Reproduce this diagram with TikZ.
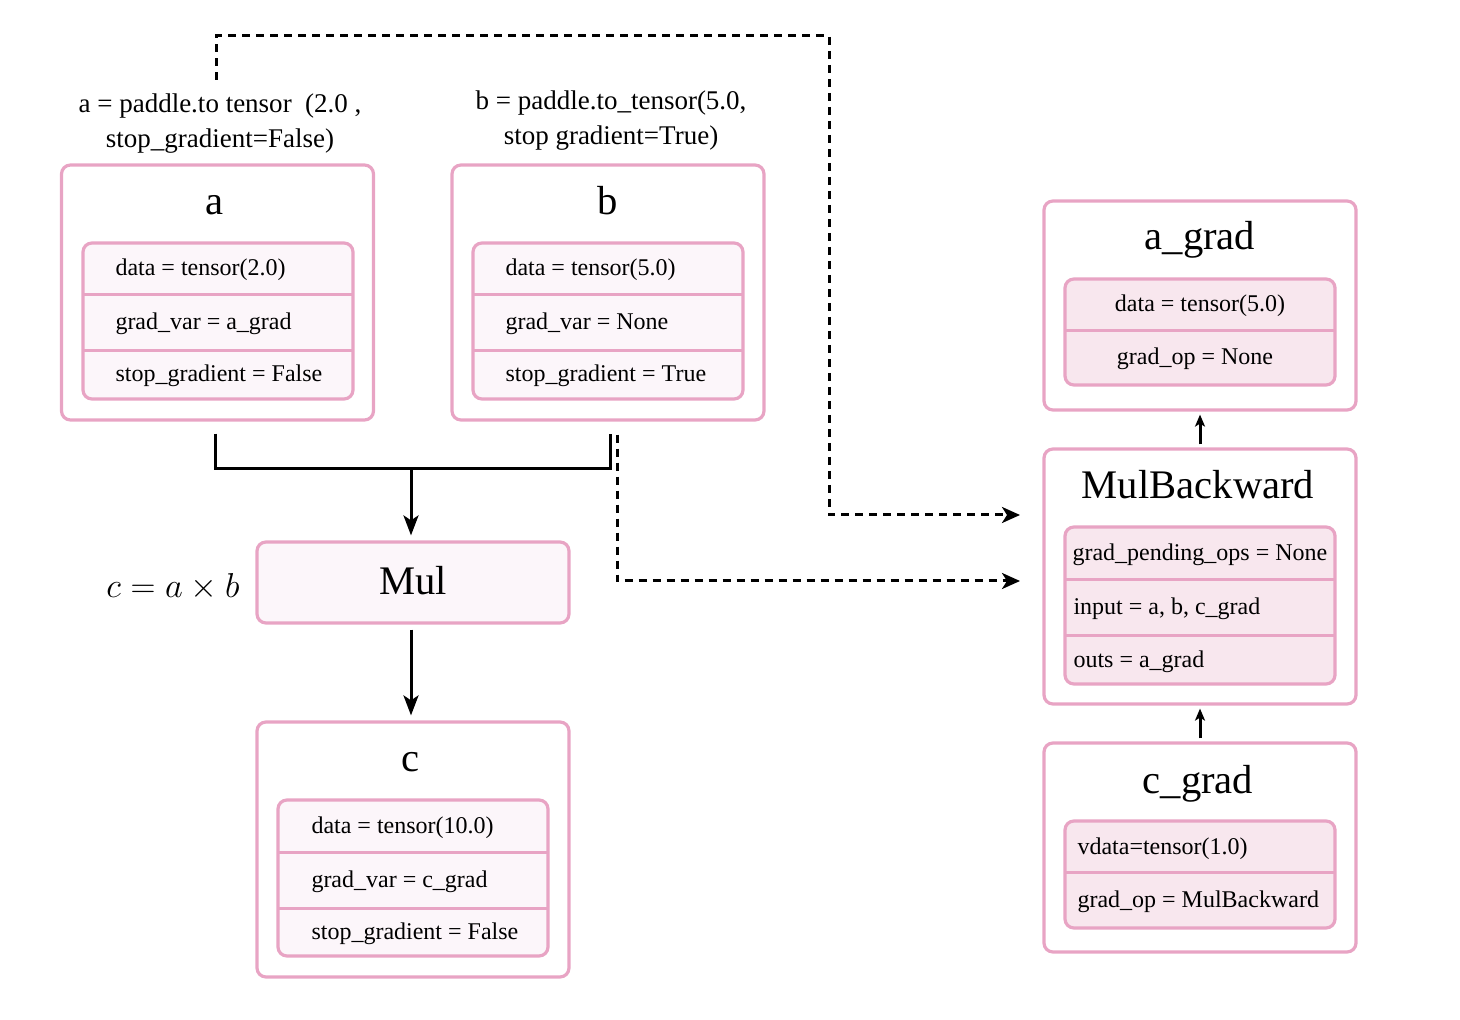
\documentclass[tikz,border=0pt]{standalone}
\usepackage{fontspec}
\setmainfont{Liberation Serif}
\usetikzlibrary{arrows.meta,calc}

\definecolor{pinkline}{RGB}{232,164,196}
\definecolor{lightfill}{RGB}{252,246,250}
\definecolor{gradfill}{RGB}{248,231,238}

\tikzset{every picture/.style={line width=1.5pt}}
\tikzset{
  outerbox/.style={draw=pinkline, line width=1.6pt, rounded corners=4.5pt, fill=white, minimum width=156pt, minimum height=127.5pt, inner sep=0pt},
  opbox/.style={outerbox, fill=lightfill, minimum height=40.5pt},
  gradbox/.style={outerbox, minimum height=104.5pt},
  titletext/.style={anchor=base, font=\fontsize{20.3}{24}\selectfont, inner sep=0pt},
  rowtext/.style={anchor=base west, font=\fontsize{12}{14}\selectfont, inner sep=0pt},
  rowmid/.style={rowtext, anchor=base},
  innerbox/.style={draw=pinkline, line width=1.6pt, rounded corners=4.5pt},
  sepline/.style={draw=pinkline, line width=1.5pt},
  conn/.style={draw=black, line width=1.5pt},
  conntip/.style={conn, -{Stealth[length=10pt,width=7.5pt,inset=2.5pt]}},
  smalltip/.style={conn, -{Stealth[length=6pt,width=5pt,inset=1.5pt]}},
  dashconn/.style={conn, dash pattern=on 4pt off 3pt, -{Stealth[length=9pt,width=8pt,inset=2.5pt]}},
  codelabel/.style={align=center, font=\fontsize{13.5}{17.5}\selectfont, inner sep=0pt},
}

\begin{document}
\begin{tikzpicture}[x=0.5pt,y=-0.5pt]
\useasboundingbox (0,0) rectangle (1460,1020);

% Text Node
\node[codelabel] (alabel) at (220,124) {a = paddle.to tensor~~(2.0~,\\stop\_gradient=False)};
% Text Node
\node[codelabel] (blabel) at (611,121) {b = paddle.to\_tensor(5.0,\\stop gradient=True)};

%Shape: Rectangle [id:a]
\node[outerbox] (a) at (217.5,292.5) {};
\node[titletext] (a-title) at (215,215) {a};
\draw[innerbox, fill=lightfill] (83,243) rectangle (353,399);
\draw[sepline] (83,295) -- (353,295);
\draw[sepline] (83,351) -- (353,351);
\node[rowtext] (a-data) at (114,276) {data = tensor(2.0)};
\node[rowtext] (a-grad) at (114,330) {grad\_var = a\_grad};
\node[rowtext] (a-stop) at (114,382) {stop\_gradient = False};

%Shape: Rectangle [id:b]
\node[outerbox] (b) at (608,292.5) {};
\node[titletext] (b-title) at (608,215) {b};
\draw[innerbox, fill=lightfill] (473,243) rectangle (743,399);
\draw[sepline] (473,295) -- (743,295);
\draw[sepline] (473,351) -- (743,351);
\node[rowtext] (b-data) at (504,276) {data = tensor(5.0)};
\node[rowtext] (b-grad) at (504,330) {grad\_var = None};
\node[rowtext] (b-stop) at (504,382) {stop\_gradient = True};

%Shape: Rectangle [id:mul]
\node[opbox] (mul) at (413,582.5) {};
\node[titletext] (mul-title) at (413,595) {Mul};
% Text Node
\node (eq) at (173,587) {\LARGE $c = a \times b$};

%Shape: Rectangle [id:c]
\node[outerbox] (c) at (413,849.5) {};
\node[titletext] (c-title) at (411,771) {c};
\draw[innerbox, fill=lightfill] (278,800) rectangle (548,956);
\draw[sepline] (278,852) -- (548,852);
\draw[sepline] (278,908) -- (548,908);
\node[rowtext] (c-data) at (310,833) {data = tensor(10.0)};
\node[rowtext] (c-grad) at (310,887) {grad\_var = c\_grad};
\node[rowtext] (c-stop) at (310,939) {stop\_gradient = False};

%Shape: Rectangle [id:agrad]
\node[gradbox] (agrad) at (1200,305.5) {};
\node[titletext] (agrad-title) at (1200,250) {a\_grad};
\draw[innerbox, fill=gradfill] (1065,279) rectangle (1335,385);
\draw[sepline] (1065,331) -- (1335,331);
\node[rowmid] (agrad-data) at (1200,312) {data = tensor(5.0)};
\node[rowmid] (agrad-op) at (1195,365) {grad\_op = None};

%Shape: Rectangle [id:mulb]
\node[outerbox] (mulb) at (1200,576.5) {};
\node[titletext] (mulb-title) at (1198,499) {MulBackward};
\draw[innerbox, fill=gradfill] (1065,527) rectangle (1335,684);
\draw[sepline] (1065,580) -- (1335,580);
\draw[sepline] (1065,635) -- (1335,635);
\node[rowtext] (mulb-pend) at (1071,561) {grad\_pending\_ops = None};
\node[rowtext] (mulb-in) at (1072,615) {input = a, b, c\_grad};
\node[rowtext] (mulb-out) at (1072,667) {outs = a\_grad};

%Shape: Rectangle [id:cgrad]
\node[gradbox] (cgrad) at (1200,847.5) {};
\node[titletext] (cgrad-title) at (1198,793) {c\_grad};
\draw[innerbox, fill=gradfill] (1065,821) rectangle (1335,928);
\draw[sepline] (1065,872) -- (1335,872);
\node[rowtext] (cgrad-data) at (1076,854) {vdata=tensor(1.0)};
\node[rowtext] (cgrad-op) at (1076,907) {grad\_op = MulBackward};

%Straight Lines
\coordinate (join) at (411,469);
\draw[conn] ($(a.south)+(-2.5,12)$) |- (join) -| ($(b.south)+(2,12)$);
\draw[conntip] (join) -- ($(join |- mul.north)+(0,-5)$);
\draw[conntip] ($(mul.south)+(-2,5)$) -- ($(c.north)+(-2,-5)$);
\draw[smalltip] ($(mulb.north)+(0,-3)$) -- ($(agrad.south)+(0,3)$);
\draw[smalltip] ($(cgrad.north)+(0,-3)$) -- ($(mulb.south)+(0,3)$);

%Dashed Lines
\coordinate (a-tap) at (216,80);
\coordinate (mb-in1) at (1020,515);
\coordinate (mb-in2) at (1020,581);
\draw[dashconn] (a-tap) |- (829,36) |- (mb-in1);
\draw[dashconn] ($(b.south)+(9,13)$) |- (mb-in2);

\end{tikzpicture}
\end{document}
